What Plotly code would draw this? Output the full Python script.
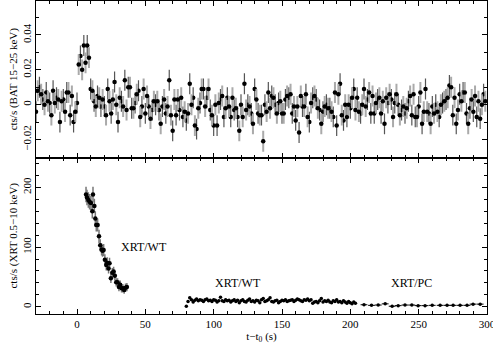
import plotly.graph_objects as go
from plotly.subplots import make_subplots

# BAT 15-25 keV light curve, 1.25 s bins starting at t-t0 = -30 s
BAT_T_START = -30.0
BAT_BIN = 1.25
bat_rate = [
    -0.004, 0.008, 0.010, 0.006, 0.003, 0.000, 0.007, 0.002,
    0.001, -0.006, 0.008, 0.001, 0.004, 0.003, -0.010, 0.002,
    0.003, -0.004, 0.007, 0.007, -0.006, 0.005, -0.010, -0.004,
    0.001, 0.023, 0.028, 0.020, 0.034, 0.024, 0.034, 0.027,
    0.009, 0.008, 0.002, -0.001, 0.005, 0.004, -0.001, 0.003,
    -0.001, -0.006, 0.009, 0.002, -0.005, 0.003, 0.013, 0.000,
    -0.010, 0.004, 0.002, -0.001, 0.014, -0.003, 0.010, 0.010,
    # 40 s ->
    -0.002, -0.002, 0.001, 0.006, 0.008, -0.007, -0.001, 0.009, -0.005, 0.005,
    -0.001, -0.008, -0.003, 0.002, 0.000, 0.002, -0.003, -0.011, -0.001, 0.003,
    -0.005, -0.001, 0.014, -0.006, -0.015, 0.003, -0.006, 0.003, -0.003, 0.004,
    -0.007, -0.004, -0.009, -0.005, 0.012, 0.000, 0.004, -0.012, -0.014, -0.002,
    0.001, 0.009, 0.009, -0.001, 0.004, 0.009, -0.003, -0.006, -0.012, 0.000,
    -0.012,
    # 103.75 s ->
    0.001, 0.003, 0.005, -0.007, -0.002, 0.004, -0.001, -0.007, 0.004, -0.003,
    -0.002, -0.007, -0.015, 0.000, -0.007, 0.012, -0.003, 0.000, -0.001, -0.005,
    -0.011, 0.009, 0.003, -0.005, -0.006, -0.006, -0.021, 0.000, -0.004, 0.007,
    -0.002, 0.005, 0.004, 0.000, -0.005, 0.001, 0.002, -0.005, -0.005, 0.003,
    0.005, 0.004, 0.006, -0.005, -0.001, -0.009, -0.001, -0.016, 0.005, -0.001,
    -0.001, 0.006, -0.007, -0.010,
    # 171.25 s ->
    0.001, 0.004, 0.005, 0.003, -0.002, -0.003, -0.011, -0.004, -0.001, 0.000,
    -0.002, -0.002, -0.004, -0.007, 0.007, -0.012, 0.006, 0.012, -0.006, -0.009,
    0.000, -0.007, 0.000, -0.002, 0.004, 0.009, -0.003, 0.004, -0.004, -0.005,
    0.000, 0.009, -0.001, 0.003, 0.007, -0.005, 0.005, -0.005, 0.001, 0.003,
    0.004, -0.005, 0.002, -0.011, 0.004, 0.001, 0.006, 0.003, -0.007, 0.001,
    0.006, 0.000, -0.006, -0.003,
    # 238.75 s ->
    -0.001, -0.005, -0.002, 0.002, 0.005, -0.006, 0.006, -0.007, -0.007, -0.001,
    0.007, -0.011, -0.004, 0.009, -0.004, -0.005, -0.011, -0.001, -0.005, 0.000,
    -0.004, -0.007, 0.000, 0.001, 0.002, 0.003, 0.004, 0.011, 0.010, -0.006,
    0.004, -0.011, -0.003, 0.006, 0.002, 0.007, 0.007, -0.005, -0.011, -0.002,
    0.003, -0.004, 0.005, -0.007, 0.002, -0.008, 0.000, 0.006, 0.002,
]
BAT_ERR = 0.006

# XRT WT, first orbit segment (steep decay)
wt1_t = [6.6, 7.3, 8.3, 9.2, 10.2, 11.2, 11.7, 12.7, 13.4, 14.1, 15.1, 16.1,
         17.0, 18.0, 18.7, 19.5, 20.4, 21.4, 22.1, 23.1, 23.8, 24.8, 25.8,
         26.8, 27.7, 28.7, 29.7, 30.7, 31.6, 32.6, 33.6, 34.5, 35.5, 36.5]
wt1_rate = [188, 183, 179, 176, 174, 160, 188, 169, 148, 137, 137, 118,
            103, 96, 94, 95, 79, 70, 74, 64, 73, 48, 57,
            59, 52, 41, 41, 33, 37, 31, 31, 28, 32, 33]
wt1_err = [13, 13, 13, 13, 12, 12, 13, 12, 12, 11, 11, 11,
           10, 10, 10, 10, 9, 9, 9, 8, 9, 8, 8,
           8, 8, 7, 7, 7, 7, 7, 7, 6, 7, 7]

# XRT WT, second segment, 1.25 s bins from 80 s
WT2_T_START = 80.0
WT2_BIN = 1.25
wt2_rate = [
    1, 9, 15, 12, 8, 11, 13, 10, 12, 11,
    9, 12, 13, 10, 11, 9, 12, 11, 8, 10,
    16, 10, 9, 12, 10, 11, 8, 10, 12, 9,
    11, 7, 10, 12, 9, 8, 11, 13, 9, 10,
    8, 11, 10, 7, 12, 14, 9, 10, 12, 15,
    9, 8, 10, 11, 7, 9, 11, 10, 12, 9,
    10, 11, 12, 9, 11, 13, 12, 10, 9, 12,
    11, 13, 10, 12, 6, 8, 9, 7, 10, 14,
    8, 10, 9, 11, 8, 7, 10, 9, 12, 8,
    9, 7, 10, 8, 6, 9, 7, 5, 8, 6,
]

# XRT PC
pc_t = [210, 215.5, 220.4, 225.5, 230.6, 235, 240, 245, 249.6, 254.7,
        259.9, 265.7, 270.8, 275.2, 280.3, 285.4, 289.8, 295]
pc_rate = [3.5, 2.5, 3, 5, 1, 2, 3, 3, 2, 2,
           2.5, 2.5, 2.5, 2.5, 2.5, 2.5, 4.5, 4.5]

labels = ["XRT/WT", "XRT/WT", "XRT/PC"]
label_t = [49, 118, 245]
label_y = [100, 40, 40]

FONT = "Liberation Serif, Times New Roman, serif"

bat_t = [BAT_T_START + BAT_BIN * i for i in range(len(bat_rate))]
wt2_t = [WT2_T_START + WT2_BIN * i for i in range(len(wt2_rate))]

fig = make_subplots(rows=2, cols=1, shared_xaxes=True, vertical_spacing=0)

# alternate bar shades like the rasterised original
for sl, col, th in [(slice(0, None, 2), '#555555', 1.2), (slice(1, None, 2), '#aaaaaa', 2)]:
    fig.add_trace(go.Scatter(
        x=bat_t[sl], y=bat_rate[sl], mode='markers',
        marker=dict(color='black', size=4.5),
        error_y=dict(type='constant', value=BAT_ERR, color=col, thickness=th, width=0),
        showlegend=False
    ), row=1, col=1)

fig.add_trace(go.Scatter(
    x=wt1_t, y=wt1_rate, mode='markers',
    marker=dict(color='black', size=4.5),
    error_y=dict(type='data', array=wt1_err, color='#777777', thickness=1.5, width=0),
    showlegend=False
), row=2, col=1)

fig.add_trace(go.Scatter(
    x=wt2_t, y=wt2_rate, mode='markers',
    marker=dict(color='black', size=3.5),
    error_x=dict(type='constant', value=0.6, color='black', thickness=1, width=0),
    error_y=dict(type='constant', value=2, color='#777777', thickness=1, width=0),
    showlegend=False
), row=2, col=1)

fig.add_trace(go.Scatter(
    x=pc_t, y=pc_rate, mode='markers',
    marker=dict(color='black', size=3.5),
    error_x=dict(type='constant', value=2.5, color='black', thickness=1, width=0),
    error_y=dict(type='constant', value=1, color='#777777', thickness=1, width=0),
    showlegend=False
), row=2, col=1)

for txt, tx, ty in zip(labels, label_t, label_y):
    fig.add_annotation(x=tx, y=ty, xref='x2', yref='y2', text=txt, showarrow=False,
                       font=dict(family=FONT, size=12, color='black'))

axis_style = dict(
    showline=True, linecolor='black', linewidth=1, mirror='allticks',
    ticks='inside', ticklen=5, tickcolor='black', showgrid=False, zeroline=False,
    automargin=False, ticklabeloverflow='allow',
    tickfont=dict(family=FONT, size=11, color='black')
)

fig.update_xaxes(range=[-30, 300], dtick=50, tick0=0,
                 minor=dict(dtick=10, ticks='inside', ticklen=3, tickcolor='black'),
                 **axis_style)
fig.update_xaxes(showticklabels=False, row=1, col=1)
fig.update_xaxes(title=dict(text='t−t<sub>0</sub> (s)', font=dict(family=FONT, size=11, color='black'),
                            standoff=0), row=2, col=1)

fig.update_yaxes(range=[-0.0303, 0.0595], dtick=0.02, tick0=0, tickangle=-90,
                 minor=dict(dtick=0.01, ticks='inside', ticklen=3, tickcolor='black'),
                 title=dict(text='cts/s (BAT 15−25 keV)', font=dict(family=FONT, size=11, color='black'),
                            standoff=0),
                 row=1, col=1, **axis_style)
fig.update_yaxes(range=[-12, 250], dtick=100, tick0=0, tickangle=-90,
                 minor=dict(dtick=20, ticks='inside', ticklen=3, tickcolor='black'),
                 title=dict(text='cts/s (XRT 0.5−10 keV)', font=dict(family=FONT, size=11, color='black'),
                            standoff=0),
                 row=2, col=1, **axis_style)

fig.update_layout(
    template='none',
    width=493, height=344,
    margin=dict(l=36, r=6, t=1, b=30),
    plot_bgcolor='white', paper_bgcolor='white',
    font=dict(family=FONT, size=11, color='black')
)

# page body has a default 8px margin; remove it so the figure sits at the corner
fig.write_html("out.html", config={'displayModeBar': False},
               post_script="document.body.style.margin='0';")
